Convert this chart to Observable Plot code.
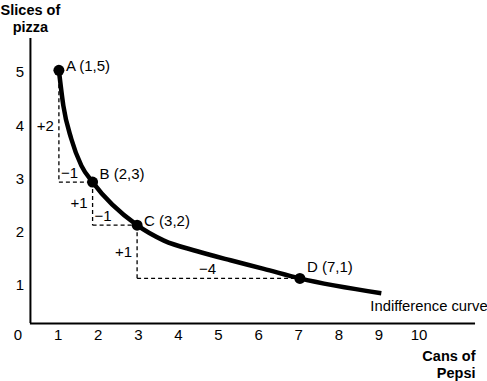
<!DOCTYPE html>
<html>
<head>
<meta charset="utf-8">
<script src="https://cdn.jsdelivr.net/npm/d3@7"></script>
<script src="https://cdn.jsdelivr.net/npm/@observablehq/plot@0.6"></script>
<style>
  html, body { margin: 0; padding: 0; background: #fff; }
  svg { font-family: "Liberation Sans", Arial, sans-serif; }
</style>
</head>
<body>
<div id="chart"></div>
<script>
// --- data ---
const xTicks = [0, 1, 2, 3, 4, 5, 6, 7, 8, 9, 10];
const yTicks = [1, 2, 3, 4, 5];

// indifference curve (cans of Pepsi, slices of pizza)
const curveX = [1.02, 1.13, 1.33, 1.58, 1.86, 2.97, 3.64, 4.47, 5.30, 6.13, 7.03, 9.06];
const curveY = [5.04, 4.38, 3.75, 3.25, 2.94, 2.13, 1.84, 1.64, 1.47, 1.31, 1.13, 0.85];

// labelled bundles
const pointNames = ["A (1,5)", "B (2,3)", "C (3,2)", "D (7,1)"];
const pointX = [1.02, 1.86, 2.97, 7.03];
const pointY = [5.04, 2.94, 2.13, 1.13];

// changes between bundles
const riseLabels = ["+2", "+1", "+1"];
const runLabels = ["\u22121", "\u22121", "\u22124"];

// axis extents
const axisOrigin = {x: 0.31, y: 0.28};
const axisEnd = {x: 11.41, y: 5.64};

const yTitle = "Slices of\npizza";
const xTitle = "Cans of\nPepsi";
const curveName = "Indifference curve";

// --- build tables ---
const curve = curveX.map((x, i) => ({x, y: curveY[i]}));
const points = pointX.map((x, i) => ({x, y: pointY[i], name: pointNames[i]}));
const steps = riseLabels.map((r, i) => ({
  x0: pointX[i], y0: pointY[i], x1: pointX[i + 1], y1: pointY[i + 1],
  rise: r, run: runLabels[i]
}));

const labelDy = [-4, -8, -4, -11];
const font = 15;

const chart = Plot.plot({
  width: 487,
  height: 381,
  marginLeft: 17.5,
  marginRight: 68.5,
  marginTop: 72,
  marginBottom: 43,
  x: {domain: [0, 10]},
  y: {domain: [0, 5]},
  marks: [
    // axes lines
    Plot.ruleX([axisOrigin.x], {y1: axisOrigin.y, y2: axisEnd.y, stroke: "#000", strokeWidth: 2}),
    Plot.ruleY([axisOrigin.y], {x1: axisOrigin.x, x2: axisEnd.x, stroke: "#000", strokeWidth: 2}),
    // tick labels
    Plot.axisX({ticks: xTicks, tickSize: 0, tickPadding: 0, dy: -9, fontSize: font, fill: "#000", tickFormat: d => String(d), label: null}),
    Plot.axisY({ticks: yTicks, tickSize: 0, tickPadding: 0, dx: 6, fontSize: font, fill: "#000", tickFormat: d => String(d), label: null}),
    // dashed steps
    Plot.link(steps, {x1: "x0", y1: "y0", x2: "x0", y2: "y1", stroke: "#000", strokeWidth: 1.3, strokeDasharray: "4,3"}),
    Plot.link(steps, {x1: "x0", y1: "y1", x2: "x1", y2: "y1", stroke: "#000", strokeWidth: 1.3, strokeDasharray: "4,3"}),
    Plot.text(steps, {x: "x0", y: d => (d.y0 + d.y1) / 2, text: "rise", textAnchor: "end", dx: -5, fontSize: font, fill: "#000"}),
    Plot.text(steps.slice(0, 2), {x: "x0", y: "y1", text: "run", textAnchor: "start", dx: 2, dy: -9, fontSize: font, fill: "#000"}),
    Plot.text(steps.slice(2), {x: d => (d.x0 + d.x1) / 2, y: "y1", text: "run", textAnchor: "middle", dx: -11, dy: -9, fontSize: font, fill: "#000"}),
    // curve
    Plot.line(curve, {x: "x", y: "y", curve: "monotone-x", stroke: "#000", strokeWidth: 4.5, strokeLinecap: "butt"}),
    Plot.dot(points, {x: "x", y: "y", r: 5.5, fill: "#000", stroke: "none"}),
    ...points.map((p, i) => Plot.text([p], {x: "x", y: "y", text: "name", textAnchor: "start", dx: 7, dy: labelDy[i], fontSize: font, fill: "#000"})),
    Plot.text([curve[curve.length - 1]], {x: "x", y: "y", text: () => curveName, textAnchor: "start", dx: -11, dy: 13, fontSize: 14.8, fill: "#000"}),
    // axis titles
    Plot.text([axisEnd], {x: () => axisOrigin.x, y: "y", text: () => yTitle, textAnchor: "middle", lineAnchor: "bottom", dy: -6, lineHeight: 1.2, fontSize: font - 0.5, fontWeight: "bold", fill: "#000"}),
    Plot.text([axisEnd], {x: "x", y: () => axisOrigin.y, text: () => xTitle, textAnchor: "end", lineAnchor: "top", dy: 25, lineHeight: 1.2, fontSize: font - 0.5, fontWeight: "bold", fill: "#000"})
  ]
});
document.getElementById("chart").appendChild(chart);
</script>
</body>
</html>
